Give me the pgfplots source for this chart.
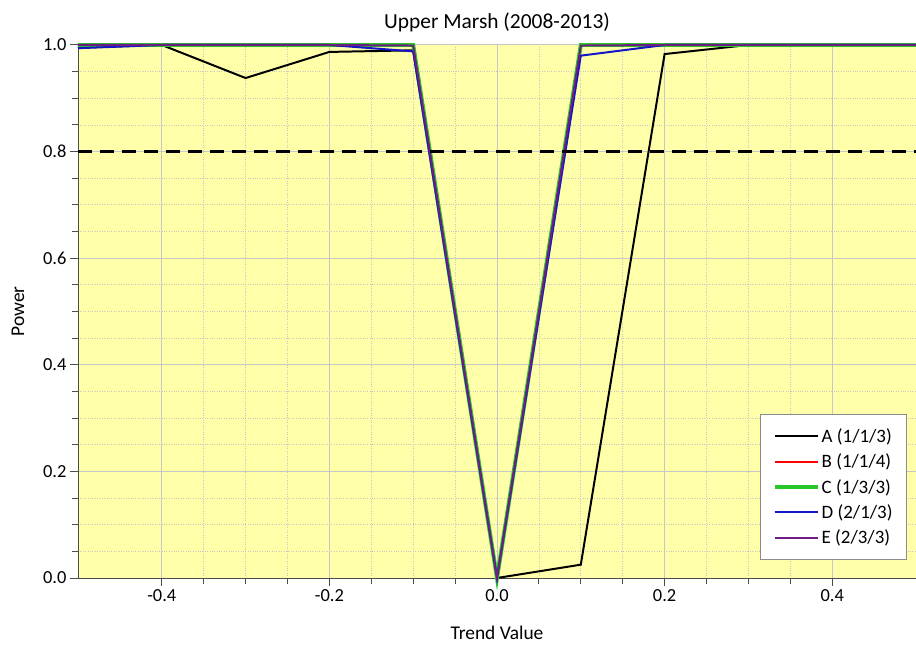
\documentclass[border=0pt]{standalone}
\usepackage{pgfplots}
\pgfplotsset{compat=1.18}
\usepackage{fontspec}
\setmainfont{Carlito}
\definecolor{bgyellow}{RGB}{255,255,170}
\definecolor{cgreen}{RGB}{40,200,40}
\definecolor{cpurple}{RGB}{110,30,130}
\definecolor{cblue}{RGB}{20,20,200}
\begin{document}
\begin{tikzpicture}[x=1bp,y=1bp]
\begin{axis}[
  at={(0,0)}, anchor=south west,
  scale only axis,
  width=838bp, height=533bp,
  xmin=-0.5, xmax=0.5, ymin=0, ymax=1,
  xtick={-0.4,-0.2,0,0.2,0.4},
  xticklabels={-0.4,-0.2,0.0,0.2,0.4},
  ytick={0,0.2,0.4,0.6,0.8,1.0},
  yticklabels={0.0,0.2,0.4,0.6,0.8,1.0},
  minor x tick num=3, minor y tick num=3,
  axis background/.style={fill=bgyellow},
  axis x line*=bottom, axis y line*=left,
  axis line style={black!70, line width=1pt},
  tick align=outside,
  major tick length=8bp, minor tick length=6bp,
  tick style={black!70, line width=1pt},
  grid=both,
  major grid style={black!22, line width=1pt},
  minor grid style={black!22, dotted, line width=0.8pt},
  tick label style={font=\fontsize{18.5}{20}\selectfont},
  label style={font=\fontsize{19.5}{21}\selectfont},
  title={Upper Marsh (2008-2013)},
  title style={font=\fontsize{21.5}{24}\selectfont, yshift=4bp},
  xlabel={Trend Value}, ylabel={Power},
  xlabel style={yshift=-18bp},
  ylabel style={yshift=12bp},
  /pgf/number format/assume math mode=true,
  clip=false,
  legend cell align=left,
  legend style={at={(1,0.034)}, anchor=south east, xshift=-9bp, draw=black!45, fill=white, line width=1pt,
    font=\fontsize{19}{22}\selectfont, row sep=6bp, inner xsep=12bp, inner ysep=12bp},
  legend image code/.code={\draw[#1] (0bp,0bp) -- (43bp,0bp);},
]
\addplot[black, line width=2pt] coordinates {
  (-0.5,0.995) (-0.4,1.0) (-0.3,0.938) (-0.2,0.987) (-0.1,0.99) (0,0) (0.1,0.025) (0.2,0.983) (0.3,1.0) (0.4,1.0) (0.5,1.0)};
\addlegendentry{A (1/1/3)}
\addplot[red, line width=2pt] coordinates {
  (-0.5,1.0) (-0.4,1.0) (-0.3,1.0) (-0.2,1.0) (-0.1,1.0) (0,0) (0.1,1.0) (0.2,1.0) (0.3,1.0) (0.4,1.0) (0.5,1.0)};
\addlegendentry{B (1/1/4)}
\addplot[cgreen, line width=4pt] coordinates {
  (-0.5,1.0) (-0.4,1.0) (-0.3,1.0) (-0.2,1.0) (-0.1,1.0) (0,0) (0.1,1.0) (0.2,1.0) (0.3,1.0) (0.4,1.0) (0.5,1.0)};
\addlegendentry{C (1/3/3)}
\addplot[cblue, line width=2pt] coordinates {
  (-0.5,0.994) (-0.4,1.0) (-0.3,1.0) (-0.2,1.0) (-0.1,0.988) (0,0) (0.1,0.98) (0.2,1.0) (0.3,1.0) (0.4,1.0) (0.5,1.0)};
\addlegendentry{D (2/1/3)}
\addplot[cpurple, line width=2pt] coordinates {
  (-0.5,1.0) (-0.4,1.0) (-0.3,1.0) (-0.2,1.0) (-0.1,0.999) (0,0) (0.1,0.999) (0.2,1.0) (0.3,1.0) (0.4,1.0) (0.5,1.0)};
\addlegendentry{E (2/3/3)}
\addplot[black, line width=2.4pt, dash pattern=on 14bp off 8bp, forget plot] coordinates {(-0.5,0.8) (0.5,0.8)};
\end{axis}
\pgfresetboundingbox
\path (-78bp,-69bp) rectangle (838bp,578bp);
\end{tikzpicture}
\end{document}
